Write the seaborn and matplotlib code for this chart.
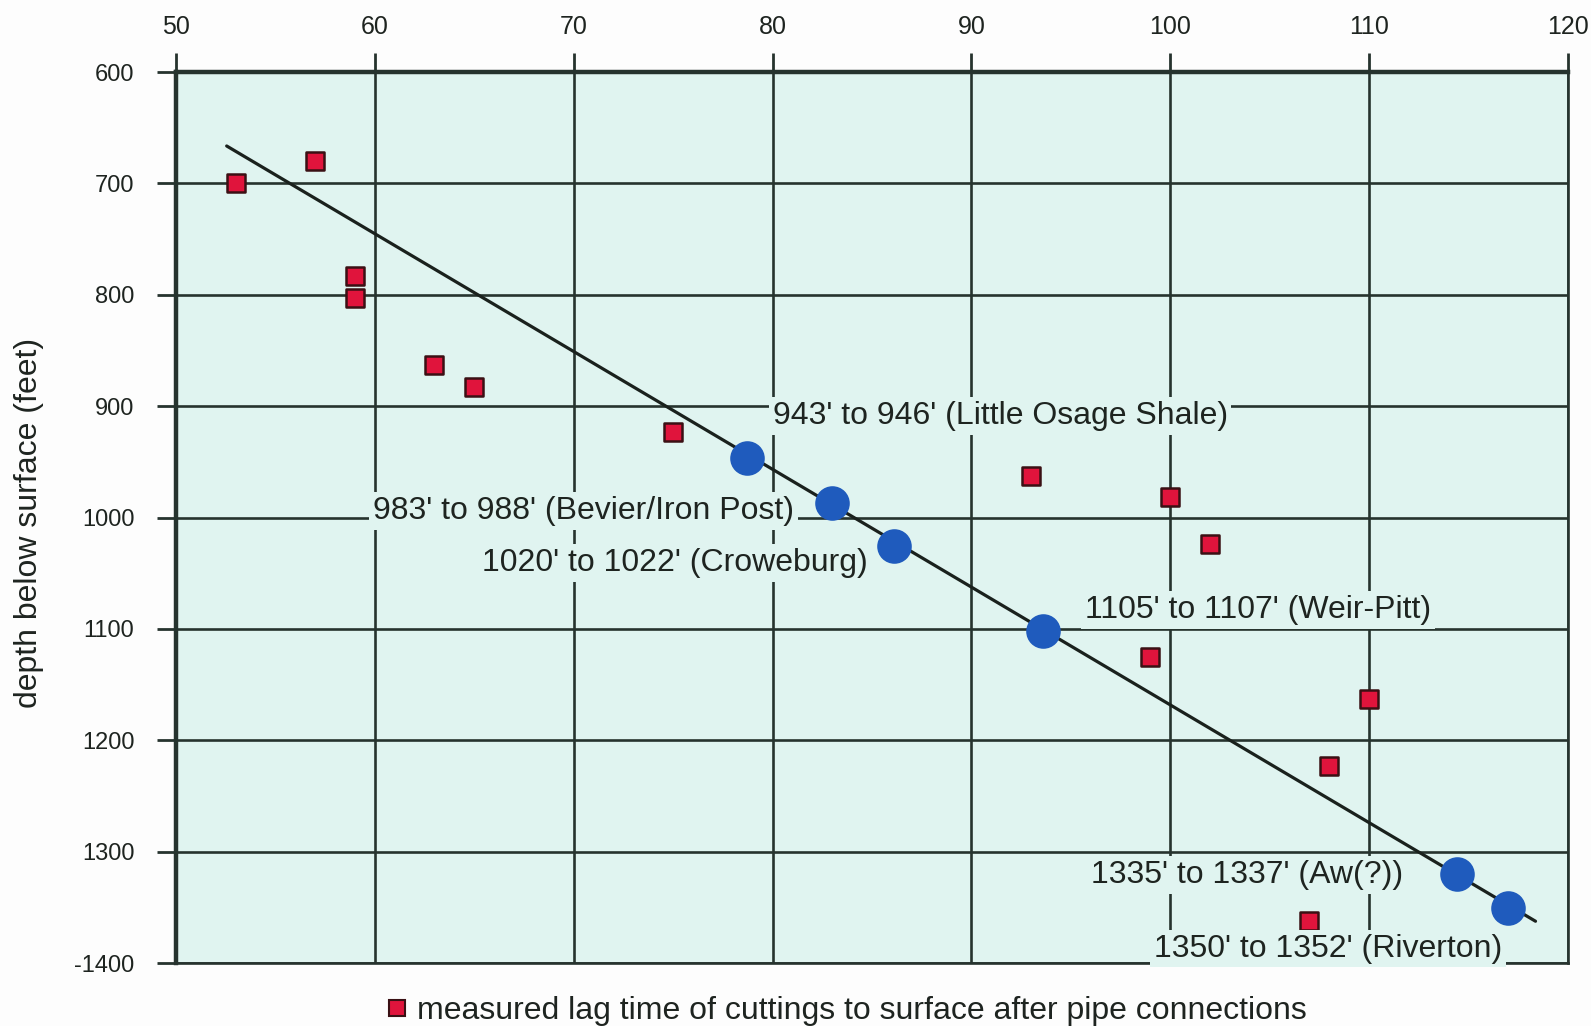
import matplotlib
matplotlib.use("Agg")
import matplotlib.pyplot as plt
from matplotlib.lines import Line2D
from matplotlib.ticker import FixedLocator, FixedFormatter
import seaborn as sns
import pandas as pd

# ---------------- data ----------------
lag_time = [53, 57, 59, 59, 63, 65, 75, 93, 100, 102, 99, 110, 108, 107]
lag_depth = [700, 680, 783, 803, 863, 883, 923, 963, 982, 1024, 1125, 1163, 1223, 1362]

marker_x = [78.7, 83.0, 86.1, 93.6, 114.4, 117.0]
marker_depth = [947, 987, 1026, 1102, 1320, 1351]
marker_labels = ["943' to 946' (Little Osage Shale)",
                 "983' to 988' (Bevier/Iron Post)",
                 "1020' to 1022' (Croweburg)",
                 "1105' to 1107' (Weir-Pitt)",
                 "1335' to 1337' (Aw(?))",
                 "1350' to 1352' (Riverton)"]
label_x = [80.0, 59.9, 65.4, 95.7, 96.0, 99.2]
label_y = [909, 994, 1041, 1083, 1321, 1387]

trend_x = [52.55, 118.37]
trend_y = [666.4, 1362.5]

x_ticks = [50, 60, 70, 80, 90, 100, 110, 120]
y_ticks = [600, 700, 800, 900, 1000, 1100, 1200, 1300, 1400]
y_tick_labels = ["600", "700", "800", "900", "1000", "1100", "1200", "1300", "-1400"]

legend_text = "measured lag time of cuttings to surface after pipe connections"
y_label = "depth below surface (feet)"

# ---------------- style ----------------
sns.set_style("white")
plt.rcParams['font.family'] = ['Liberation Sans', 'DejaVu Sans']

BG = "#e0f4f0"
GRID = "#26332e"
RED = "#e0143c"
RED_EDGE = "#3a1014"
BLUE = "#1f5bbd"
TXT = "#1e2420"

fig = plt.figure(figsize=(15.91, 10.26), dpi=100, facecolor="#fdfdfd")
ax = fig.add_axes([0.1106, 0.0614, 0.8749, 0.8684])
ax.set_facecolor(BG)

df_lag = pd.DataFrame({"x": lag_time, "y": lag_depth})
df_mark = pd.DataFrame({"x": marker_x, "y": marker_depth})
df_trend = pd.DataFrame({"x": trend_x, "y": trend_y})

sns.lineplot(data=df_trend, x="x", y="y", ax=ax, color="#1a211d", lw=2.3,
             zorder=3, legend=False)
sns.scatterplot(data=df_lag, x="x", y="y", ax=ax, marker="s", s=150,
                color=RED, edgecolor=RED_EDGE, linewidth=1.8, zorder=4,
                legend=False)
sns.scatterplot(data=df_mark, x="x", y="y", ax=ax, marker="o", s=620,
                color=BLUE, edgecolor=BLUE, linewidth=0, zorder=4,
                legend=False)

ax.set_xlim(50, 120)
ax.set_ylim(1400, 600)

ax.xaxis.set_major_locator(FixedLocator(x_ticks))
ax.yaxis.set_major_locator(FixedLocator(y_ticks))
ax.yaxis.set_major_formatter(FixedFormatter(y_tick_labels))
ax.xaxis.tick_top()
ax.tick_params(axis="x", which="major", top=True, bottom=False, direction="out",
               length=14, width=2, color=GRID, pad=10, labelsize=18, labelcolor=TXT)
ax.tick_params(axis="y", which="major", left=True, direction="out",
               length=14, width=2, color=GRID, pad=16, labelsize=17, labelcolor=TXT)

ax.grid(True, color=GRID, lw=1.9)
ax.set_axisbelow(True)
for side, w in [("top", 3.2), ("left", 3.2), ("right", 1.9), ("bottom", 1.9)]:
    ax.spines[side].set_visible(True)
    ax.spines[side].set_color(GRID)
    ax.spines[side].set_linewidth(w)

ax.set_xlabel("")
ax.set_ylabel("")
fig.text(0.0185, 0.49, y_label, rotation=90, ha="center", va="center",
         fontsize=23, color=TXT)

for lx, ly, t in zip(label_x, label_y, marker_labels):
    ax.text(lx, ly, t, ha="left", va="center", fontsize=23, color=TXT,
            zorder=6, clip_on=False,
            bbox=dict(boxstyle="square,pad=0.12", fc=BG, ec="none"))

handle = Line2D([], [], marker="s", ls="none", markersize=12,
                markerfacecolor=RED, markeredgecolor=RED_EDGE, markeredgewidth=1.5)
ax.legend([handle], [legend_text], loc="center", bbox_to_anchor=(0.481, -0.054),
          frameon=False, fontsize=23, handletextpad=0.2, handlelength=0.8,
          labelcolor=TXT)

fig.savefig("out.png", dpi=100, facecolor=fig.get_facecolor())
